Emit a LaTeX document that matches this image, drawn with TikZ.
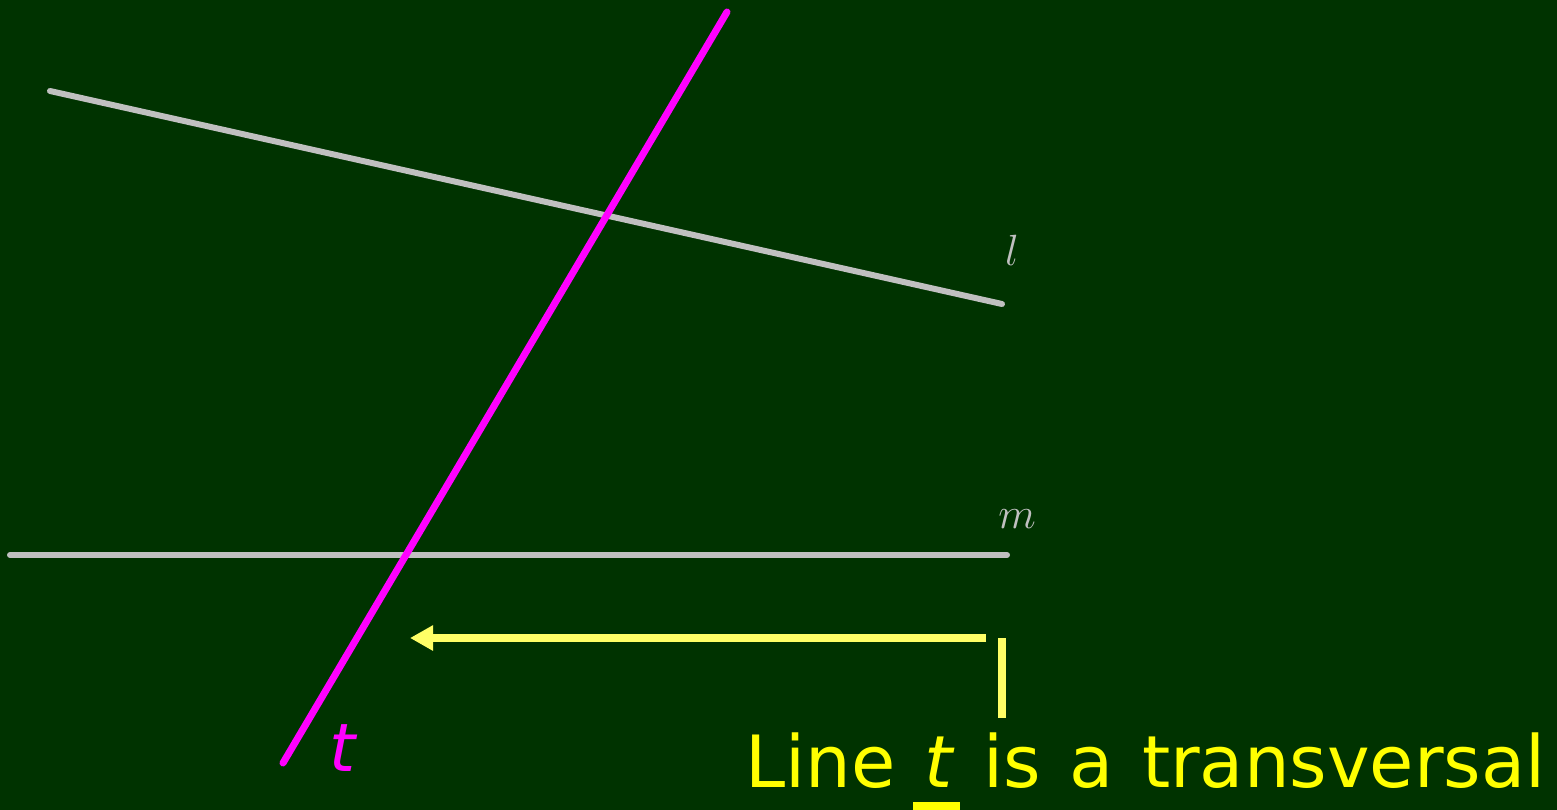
\documentclass[tikz,border=0pt]{standalone}
\usepackage{fontspec}
\newfontfamily\labelfont[WordSpace=1.25]{DejaVu Sans}
\usetikzlibrary{arrows.meta}
\definecolor{board}{HTML}{003300}
\definecolor{chalk}{HTML}{C0C0C0}
\definecolor{ungu}{HTML}{FF00FF}
\definecolor{pointer}{HTML}{FFFF66}
\definecolor{caption}{HTML}{FFFF00}
\tikzset{
  garis/.style={chalk, line width=6*0.02cm, line cap=round},
  transversal/.style={ungu, line width=7*0.02cm, line cap=round},
  penunjuk/.style={pointer, line width=8*0.02cm}
}
\begin{document}
\begin{tikzpicture}[x=0.02cm, y=-0.02cm, >={Triangle[length=0.46cm, width=0.48cm]}]

    % Latar belakang
    \fill[board] (0,0) rectangle (1557,810);
    \useasboundingbox (0,0) rectangle (1557,810);

    % Ujung garis
    \coordinate (l1) at (50,91);
    \coordinate (l2) at (1002,304);
    \coordinate (m1) at (10,555);
    \coordinate (m2) at (1007,555);
    \coordinate (t1) at (283,763);
    \coordinate (t2) at (727,12);

    % Garis l dan m
    \draw[garis] (l1) -- (l2);
    \draw[garis] (m1) -- (m2);

    % Garis t (transversal)
    \draw[transversal] (t1) -- (t2);

    % Label garis
    \node[chalk, font=\fontsize{30}{30}\selectfont] (lab-l) at (1012,250) {$l$};
    \node[chalk, font=\fontsize{30}{30}\selectfont] (lab-m) at (1017,519) {$m$};
    \node[ungu, font=\labelfont\itshape\fontsize{38}{38}\selectfont] (lab-t) at (343,748) {t};

    % Keterangan
    \node[caption, anchor=base west, inner sep=0pt, font=\labelfont\fontsize{41}{41}\selectfont] (ket) at (745,787) {Line \textit{t} is a transversal};
    \fill[caption] (913,802) rectangle (960,810);

    % Penunjuk
    \coordinate (p1) at (986,638);
    \coordinate (p2) at (410,638);
    \coordinate (v1) at (1002,638);
    \coordinate (v2) at (1002,718);
    \draw[penunjuk, ->] (p1) -- (p2);
    \draw[penunjuk] (v1) -- (v2);

\end{tikzpicture}
\end{document}
